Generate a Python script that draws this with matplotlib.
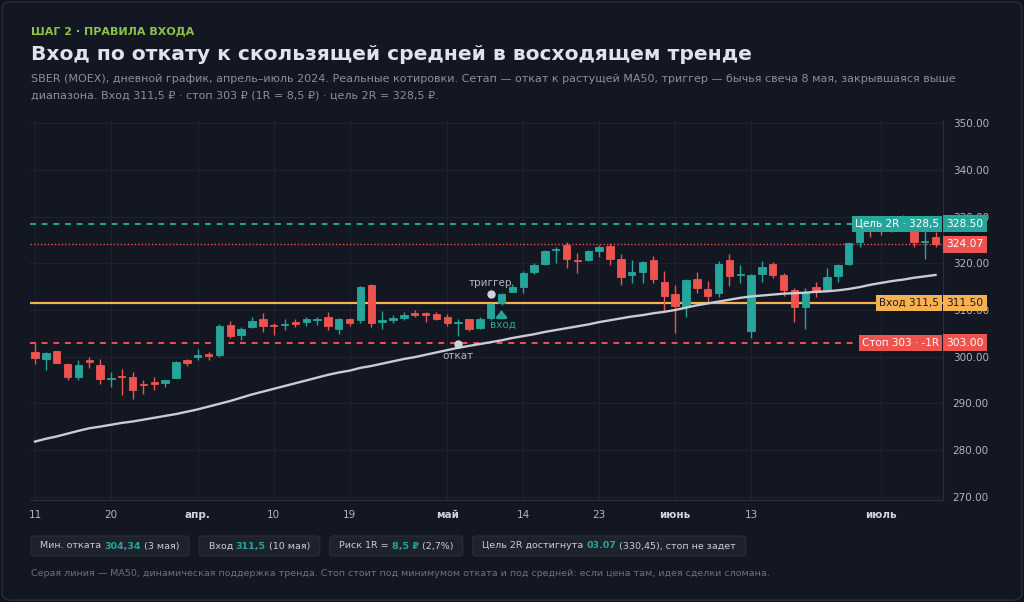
import numpy as np
import matplotlib.pyplot as plt
from matplotlib.patches import FancyBboxPatch

# OHLC, daily bars 11 Mar .. 8 Jul 2024 (bar index, weekends/holidays skipped)
opens = [300.9, 299.5, 301.15, 298.4, 295.6, 299.3, 298.2, 295.2, 295.9, 295.7,
         294.1, 294.5, 294.4, 295.5, 299.3, 300.0, 300.5, 300.3, 306.7, 304.6,
         306.4, 308.0, 306.85, 306.7, 307.35, 307.4, 307.9, 308.55, 305.85, 308.0,
         307.85, 315.35, 307.4, 307.8, 308.35, 309.3, 309.3, 309.1, 308.55, 307.15,
         308.0, 306.1, 308.2, 311.5, 313.9, 315.0, 318.1, 319.85, 322.85, 323.9,
         320.8, 320.7, 322.7, 323.7, 320.9, 317.4, 318.1, 320.7, 315.9, 313.4,
         310.8, 316.6, 314.55, 313.7, 320.7, 317.4, 305.55, 317.7, 319.85, 317.55,
         314.3, 310.6, 314.85, 314.3, 317.35, 319.85, 324.6, 329.0, 328.0, 327.2,
         328.2, 327.6, 324.55, 325.7]
highs = [302.9, 300.9, 301.3, 298.6, 299.3, 299.9, 299.4, 296.8, 297.3, 296.7,
         294.9, 295.7, 295.1, 299.1, 299.5, 301.6, 301.1, 307.0, 307.7, 306.4,
         308.5, 309.4, 307.3, 308.0, 308.0, 308.45, 308.55, 309.6, 308.2, 308.2,
         315.1, 315.6, 309.7, 308.9, 309.6, 310.0, 309.6, 309.5, 309.1, 308.05,
         308.0, 308.6, 311.55, 313.6, 315.6, 318.4, 320.0, 322.9, 323.4, 324.6,
         322.15, 322.9, 323.9, 324.4, 321.9, 320.7, 320.5, 321.6, 318.4, 315.35,
         316.6, 318.2, 316.3, 320.55, 322.0, 319.6, 317.7, 320.55, 320.2, 317.85,
         314.65, 314.65, 315.9, 318.9, 319.9, 324.6, 329.2, 329.5, 328.8, 328.8,
         330.45, 328.0, 327.2, 326.8]
lows = [298.4, 297.1, 298.6, 295.1, 295.1, 297.5, 294.1, 293.4, 291.7, 290.9,
        292.0, 292.9, 293.4, 295.4, 298.0, 299.3, 299.3, 299.9, 304.1, 303.6,
        306.2, 305.3, 304.6, 305.7, 306.3, 306.6, 306.8, 305.7, 304.85, 306.6,
        307.3, 306.3, 305.85, 307.3, 307.85, 308.55, 307.5, 307.85, 306.6, 304.34,
        305.55, 306.0, 307.85, 311.1, 313.8, 313.6, 317.65, 319.7, 320.0, 318.9,
        317.85, 320.5, 321.3, 319.6, 315.35, 315.7, 315.85, 315.85, 309.85, 305.0,
        308.6, 313.7, 311.55, 312.7, 315.15, 315.85, 303.9, 316.05, 316.8, 313.0,
        307.35, 305.85, 312.7, 314.0, 316.05, 319.7, 323.5, 325.7, 326.1, 326.8,
        327.4, 323.55, 320.85, 323.55]
closes = [299.65, 300.8, 298.7, 295.7, 298.2, 298.8, 295.2, 295.4, 295.6, 292.9,
          293.9, 294.1, 295.0, 298.9, 298.6, 300.35, 300.1, 306.6, 304.4, 306.0,
          307.6, 306.6, 306.5, 307.0, 307.0, 308.0, 308.1, 306.5, 308.0, 307.3,
          314.9, 307.3, 307.85, 308.2, 308.9, 309.0, 309.0, 308.05, 307.3, 307.35,
          305.85, 308.1, 311.2, 313.4, 314.85, 318.0, 319.6, 322.7, 323.05, 320.9,
          320.5, 322.7, 323.4, 320.9, 317.0, 318.1, 320.35, 316.6, 313.0, 310.85,
          316.4, 314.65, 313.0, 319.85, 317.3, 317.7, 317.55, 319.3, 317.5, 314.2,
          310.6, 313.9, 313.85, 317.1, 319.6, 324.4, 328.5, 327.2, 327.0, 328.3,
          329.0, 324.6, 324.85, 324.07]
ma50 = [281.8, 282.4, 282.9, 283.5, 284.1, 284.65, 285.0, 285.4, 285.8, 286.1,
        286.5, 286.9, 287.3, 287.7, 288.2, 288.7, 289.3, 289.9, 290.5, 291.2,
        291.9, 292.5, 293.1, 293.7, 294.3, 294.9, 295.5, 296.1, 296.6, 297.0,
        297.6, 298.0, 298.5, 299.0, 299.5, 299.9, 300.4, 300.9, 301.4, 301.9,
        302.3, 302.7, 303.1, 303.5, 304.0, 304.4, 304.8, 305.3, 305.7, 306.1,
        306.5, 306.9, 307.4, 307.8, 308.2, 308.6, 308.9, 309.3, 309.6, 310.0,
        310.5, 311.0, 311.4, 311.8, 312.2, 312.6, 312.9, 313.1, 313.3, 313.5,
        313.6, 313.7, 313.9, 314.0, 314.2, 314.5, 314.9, 315.4, 315.8, 316.2,
        316.5, 316.9, 317.2, 317.5]

tick_idx = [0, 7, 15, 22, 29, 38, 45, 52, 59, 66, 78]
tick_lbl = ["11", "20", "апр.", "10", "19", "май", "14", "23", "июнь", "13", "июль"]
month_lbl = {"апр.", "май", "июнь", "июль"}

entry, stop, target, last = 311.5, 303.0, 328.5, 324.07
pullback_i, trigger_i, entry_i = 39, 42, 43

BG = "#131722"
GRID = "#1e2230"
UP, DN = "#26a69a", "#ef5350"
ORANGE = "#f7b14f"
TXT = "#b2b5be"

W, H = 1024, 602
fig = plt.figure(figsize=(W / 100, H / 100), dpi=100)
fig.patch.set_facecolor("#0f121a")
fig.patches.append(FancyBboxPatch((0.002, 0.003), 0.996, 0.994,
                                  boxstyle="round,pad=0,rounding_size=0.01",
                                  transform=fig.transFigure, fc=BG, ec="#262b38", lw=1.2,
                                  zorder=-10))

ax = fig.add_axes([30 / W, 1 - 500 / H, (943 - 30) / W, 380 / H])
ax.set_facecolor(BG)
ax.set_xlim(-0.46, 83.69)
ax.set_ylim(269.28, 350.71)

x = np.arange(len(opens))
o, h, l, c = map(np.array, (opens, highs, lows, closes))
cols = np.where(c >= o, UP, DN)
ax.vlines(x, l, h, colors=cols, lw=1.0, zorder=3)
bot = np.minimum(o, c)
hgt = np.maximum(np.abs(c - o), 0.25)
ax.bar(x, hgt, bottom=bot, width=0.68, color=cols, edgecolor=cols, lw=0.6, zorder=4)

ax.plot(x, ma50, color="#c9ccd4", lw=1.7, zorder=5)

# levels
ax.axhline(target, color=UP, lw=1.4, ls=(0, (3, 3)), xmax=0.90, zorder=2)
ax.axhline(last, color=DN, lw=1.0, ls=(0, (1, 1.5)), zorder=2)
ax.axhline(entry, color=ORANGE, lw=1.6, zorder=2)
ax.axhline(stop, color=DN, lw=1.4, ls=(0, (3, 3)), xmax=0.905, zorder=2)

for s in ax.spines.values():
    s.set_visible(False)
for side in ("right", "bottom"):
    ax.spines[side].set_visible(True)
    ax.spines[side].set_color("#2a2e39")

ax.yaxis.tick_right()
ax.set_yticks(np.arange(270, 351, 10))
ax.set_yticklabels([f"{v:.2f}" for v in np.arange(270, 351, 10)])
ax.set_xticks(tick_idx)
ax.set_xticklabels(tick_lbl)
ax.tick_params(length=0, colors=TXT, labelsize=7.5, pad=7)
ax.tick_params(axis="x", pad=7)
for t in ax.get_xticklabels():
    if t.get_text() in month_lbl:
        t.set_fontweight("bold")
        t.set_color("#d1d4dc")
ax.grid(True, color=GRID, lw=0.8, zorder=0)

# axis value tags
def tag(y, txt, fc, tc):
    ax.text(1.004, y, txt, transform=ax.get_yaxis_transform(), ha="left", va="center",
            fontsize=7.7, color=tc, zorder=10, clip_on=False,
            bbox=dict(boxstyle="square,pad=0.3", fc=fc, ec="none"))

tag(target, f"{target:.2f}", UP, "white")
tag(last, f"{last:.2f}", DN, "white")
tag(entry, f"{entry:.2f}", ORANGE, "#1b1b1b")
tag(stop, f"{stop:.2f}", DN, "white")

def level_tag(y, txt, fc, tc):
    ax.text(0.996, y, txt, transform=ax.get_yaxis_transform(), ha="right", va="center",
            fontsize=7.5, color=tc, zorder=10,
            bbox=dict(boxstyle="square,pad=0.3", fc=fc, ec="none"))

level_tag(target, "Цель 2R · 328,5", UP, "white")
level_tag(entry, "Вход 311,5", ORANGE, "#1b1b1b")
level_tag(stop, "Стоп 303 · -1R", DN, "white")

# annotations
ax.plot(pullback_i, 302.7, "o", color="#d1d4dc", ms=5, zorder=8)
ax.text(pullback_i, 300.1, "откат", color=TXT, fontsize=7.5, ha="center", va="center", zorder=8)
ax.plot(trigger_i, 313.35, "o", color="#d1d4dc", ms=5, zorder=8)
ax.text(trigger_i, 315.7, "триггер", color=TXT, fontsize=7.5, ha="center", va="center", zorder=8)
ax.annotate("", xy=(entry_i, 310.5), xytext=(entry_i, 308.8),
            arrowprops=dict(arrowstyle="-|>,head_width=0.3,head_length=0.35", color=UP, lw=2.2),
            zorder=8)
ax.text(entry_i + 0.1, 306.8, "вход", color=UP, fontsize=7.5, ha="center", va="center", zorder=8)

# header
fig.text(31 / W, 1 - 31.5 / H, "ШАГ 2 · ПРАВИЛА ВХОДА",
         color="#8bc34a", fontsize=8.0, fontweight="bold", va="center")
fig.text(31 / W, 1 - 55 / H, "Вход по откату к скользящей средней в восходящем тренде",
         color="#e0e3eb", fontsize=14.6, fontweight="bold", va="center")
fig.text(31 / W, 1 - 79 / H,
         "SBER (MOEX), дневной график, апрель–июль 2024. Реальные котировки. Сетап — откат к растущей MA50, триггер — бычья свеча 8 мая, закрывшаяся выше",
         color="#8a8f9c", fontsize=8.03, va="center")
fig.text(31 / W, 1 - 95.5 / H, "диапазона. Вход 311,5 ₽ · стоп 303 ₽ (1R = 8,5 ₽) · цель 2R = 328,5 ₽.",
         color="#8a8f9c", fontsize=8.03, va="center")

# info chips
fig.canvas.draw()
rend = fig.canvas.get_renderer()
chips = [
    [("Мин. отката ", None), ("304,34", UP), (" (3 мая)", None)],
    [("Вход ", None), ("311,5", UP), (" (10 мая)", None)],
    [("Риск 1R = ", None), ("8,5 ₽", UP), (" (2,7%)", None)],
    [("Цель 2R достигнута ", None), ("03.07", UP), (" (330,45), стоп не задет", None)],
]
cx = 31
cy = 546
for chip in chips:
    tx = cx + 9.5
    for txt, col in chip:
        t = fig.text(tx / W, 1 - cy / H, txt, fontsize=6.8, va="center",
                     color=col or "#c9ccd3", fontweight="bold" if col else "normal", zorder=5)
        tx += t.get_window_extent(rend).width
    w = tx + 9.5 - cx
    fig.patches.append(FancyBboxPatch((cx / W, 1 - 556 / H), w / W, 20 / H,
                                      boxstyle="round,pad=0,rounding_size=0.004",
                                      transform=fig.transFigure, fc="#1e222d", ec="#2a2e39",
                                      lw=0.8, zorder=1))
    cx += w + 10

fig.text(31 / W, 1 - 573 / H,
         "Серая линия — MA50, динамическая поддержка тренда. Стоп стоит под минимумом отката и под средней: если цена там, идея сделки сломана.",
         color="#6b7080", fontsize=6.8, va="center")

fig.savefig("out.png", dpi=100, facecolor=fig.get_facecolor())
